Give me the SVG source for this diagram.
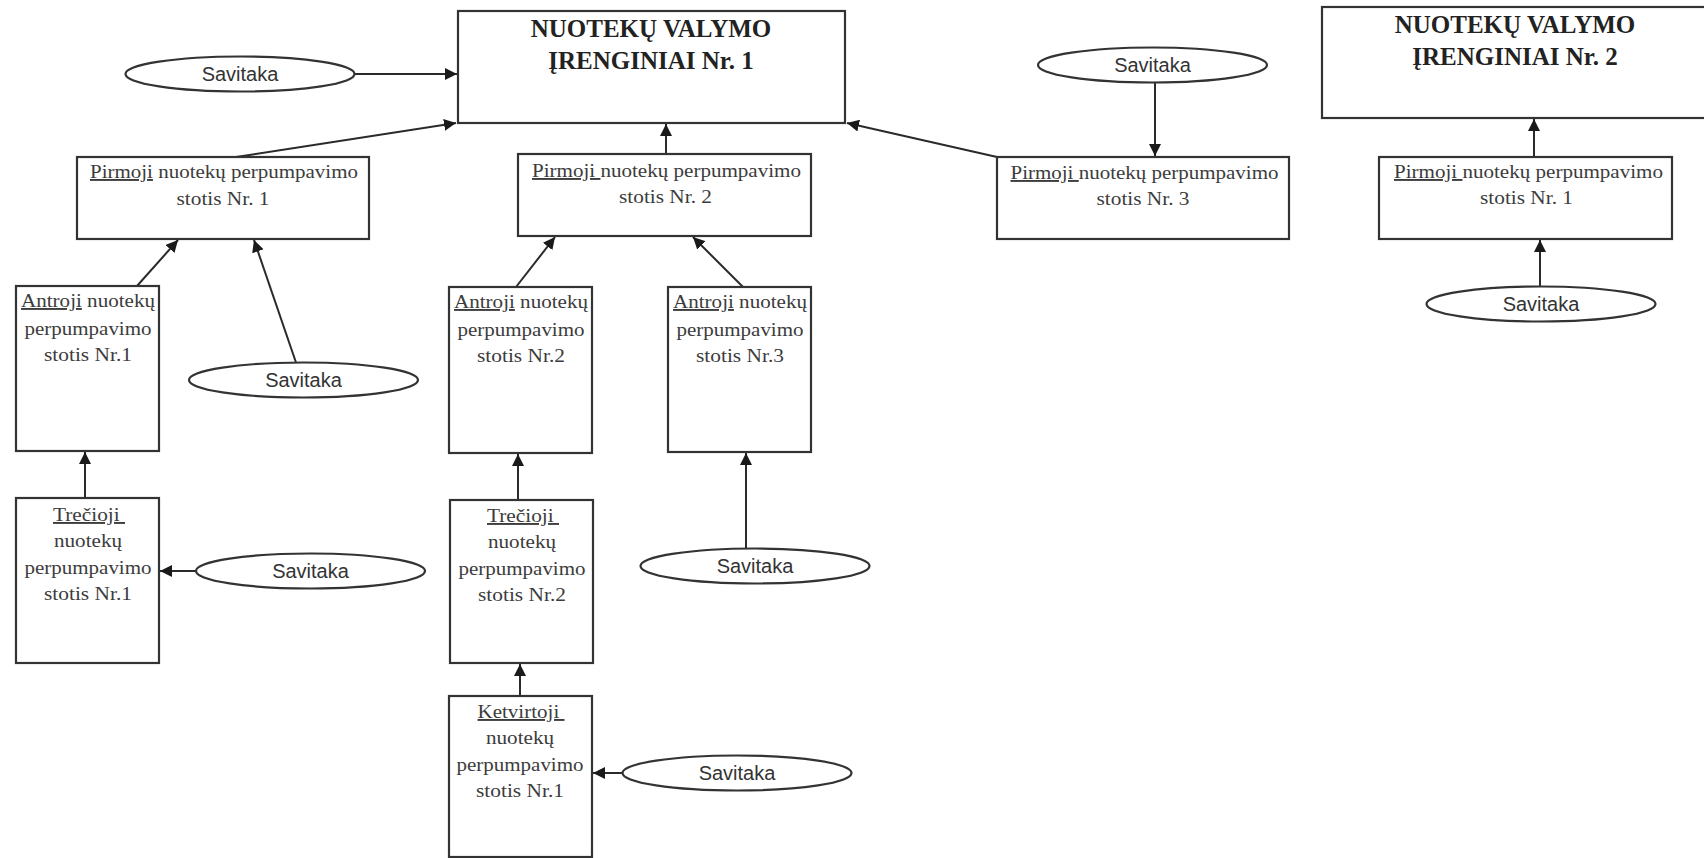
<svg xmlns="http://www.w3.org/2000/svg" width="1704" height="858" viewBox="0 0 1704 858">
<style>
.box{fill:#fff;stroke:#333;stroke-width:2.2}
.ell{fill:#fff;stroke:#333;stroke-width:2.2}
.lbl{font-family:"Liberation Serif","Times New Roman",serif;font-size:19px;fill:#3c3c3c;text-anchor:middle}
.ttl{font-family:"Liberation Serif","Times New Roman",serif;font-size:25px;font-weight:bold;fill:#222;text-anchor:middle}
.sav{font-family:"Liberation Sans",Arial,sans-serif;font-size:20px;fill:#333;text-anchor:middle}
.u{text-decoration:underline}
.con{stroke:#2a2a2a;stroke-width:2;fill:none;marker-end:url(#ah)}
</style>
<defs>
<marker id="ah" markerUnits="userSpaceOnUse" markerWidth="14" markerHeight="12" refX="12" refY="6" orient="auto">
<path d="M0,0 L12,6 L0,12 Z" fill="#1a1a1a"/>
</marker>
</defs>
<rect width="1704" height="858" fill="#fff"/>

<g id="connectors">
<line class="con" x1="354" y1="74" x2="457" y2="74"/>
<line class="con" x1="236" y1="157" x2="456" y2="123"/>
<line class="con" x1="666" y1="154" x2="666" y2="124"/>
<line class="con" x1="997" y1="157" x2="847" y2="123"/>
<line class="con" x1="1155" y1="82.5" x2="1155" y2="156"/>
<line class="con" x1="1534" y1="157" x2="1534" y2="119"/>
<line class="con" x1="1540" y1="286.5" x2="1540" y2="240"/>
<line class="con" x1="137" y1="286" x2="178" y2="240"/>
<line class="con" x1="296" y1="362.5" x2="254" y2="240"/>
<line class="con" x1="516" y1="287" x2="555" y2="237"/>
<line class="con" x1="743" y1="287" x2="693" y2="237"/>
<line class="con" x1="85" y1="498" x2="85" y2="452"/>
<line class="con" x1="196" y1="571" x2="160" y2="571"/>
<line class="con" x1="518" y1="500" x2="518" y2="454"/>
<line class="con" x1="746" y1="548.5" x2="746" y2="453"/>
<line class="con" x1="520" y1="696" x2="520" y2="664"/>
<line class="con" x1="622.5" y1="773" x2="593" y2="773"/>
</g>

<g id="main1">
<rect class="box" x="458" y="11" width="387" height="112"/>
<text class="ttl" x="651" y="37">NUOTEKŲ VALYMO</text>
<text class="ttl" x="651" y="68.5">ĮRENGINIAI Nr. 1</text>
</g>
<g id="main2">
<rect class="box" x="1322" y="7" width="400" height="111"/>
<text class="ttl" x="1515" y="33">NUOTEKŲ VALYMO</text>
<text class="ttl" x="1515" y="65">ĮRENGINIAI Nr. 2</text>
</g>

<g id="p1">
<rect class="box" x="77" y="157" width="292" height="82"/>
<text class="lbl" x="224" y="178" textLength="268" lengthAdjust="spacingAndGlyphs"><tspan class="u">Pirmoji</tspan> nuotekų perpumpavimo</text>
<text class="lbl" x="223" y="205" textLength="93" lengthAdjust="spacingAndGlyphs">stotis Nr. 1</text>
</g>
<g id="p2">
<rect class="box" x="518" y="154" width="293" height="82"/>
<text class="lbl" x="666.5" y="177" textLength="269" lengthAdjust="spacingAndGlyphs"><tspan class="u">Pirmoji </tspan>nuotekų perpumpavimo</text>
<text class="lbl" x="665.5" y="203" textLength="93" lengthAdjust="spacingAndGlyphs">stotis Nr. 2</text>
</g>
<g id="p3">
<rect class="box" x="997" y="157" width="292" height="82"/>
<text class="lbl" x="1144.5" y="179" textLength="268" lengthAdjust="spacingAndGlyphs"><tspan class="u">Pirmoji </tspan>nuotekų perpumpavimo</text>
<text class="lbl" x="1143" y="205" textLength="93" lengthAdjust="spacingAndGlyphs">stotis Nr. 3</text>
</g>
<g id="p1b">
<rect class="box" x="1379" y="157" width="293" height="82"/>
<text class="lbl" x="1528.5" y="178" textLength="269" lengthAdjust="spacingAndGlyphs"><tspan class="u">Pirmoji </tspan>nuotekų perpumpavimo</text>
<text class="lbl" x="1526.5" y="204" textLength="93" lengthAdjust="spacingAndGlyphs">stotis Nr. 1</text>
</g>

<g id="a1">
<rect class="box" x="16" y="286" width="143" height="165"/>
<text class="lbl" x="88" y="307" textLength="134" lengthAdjust="spacingAndGlyphs"><tspan class="u">Antroji</tspan> nuotekų</text>
<text class="lbl" x="88" y="335" textLength="127" lengthAdjust="spacingAndGlyphs">perpumpavimo</text>
<text class="lbl" x="88" y="361" textLength="88" lengthAdjust="spacingAndGlyphs">stotis Nr.1</text>
</g>
<g id="a2">
<rect class="box" x="449" y="287" width="143" height="166"/>
<text class="lbl" x="521" y="308" textLength="134" lengthAdjust="spacingAndGlyphs"><tspan class="u">Antroji</tspan> nuotekų</text>
<text class="lbl" x="521" y="336" textLength="127" lengthAdjust="spacingAndGlyphs">perpumpavimo</text>
<text class="lbl" x="521" y="362" textLength="88" lengthAdjust="spacingAndGlyphs">stotis Nr.2</text>
</g>
<g id="a3">
<rect class="box" x="668" y="287" width="143" height="165"/>
<text class="lbl" x="740" y="308" textLength="134" lengthAdjust="spacingAndGlyphs"><tspan class="u">Antroji</tspan> nuotekų</text>
<text class="lbl" x="740" y="336" textLength="127" lengthAdjust="spacingAndGlyphs">perpumpavimo</text>
<text class="lbl" x="740" y="362" textLength="88" lengthAdjust="spacingAndGlyphs">stotis Nr.3</text>
</g>

<g id="t1">
<rect class="box" x="16" y="498" width="143" height="165"/>
<text class="lbl" x="89" y="521" textLength="72" lengthAdjust="spacingAndGlyphs"><tspan class="u">Trečioji&#160;</tspan></text>
<text class="lbl" x="88" y="547" textLength="68" lengthAdjust="spacingAndGlyphs">nuotekų</text>
<text class="lbl" x="88" y="574" textLength="127" lengthAdjust="spacingAndGlyphs">perpumpavimo</text>
<text class="lbl" x="88" y="600" textLength="88" lengthAdjust="spacingAndGlyphs">stotis Nr.1</text>
</g>
<g id="t2">
<rect class="box" x="450" y="500" width="143" height="163"/>
<text class="lbl" x="523" y="522" textLength="72" lengthAdjust="spacingAndGlyphs"><tspan class="u">Trečioji&#160;</tspan></text>
<text class="lbl" x="522" y="548" textLength="68" lengthAdjust="spacingAndGlyphs">nuotekų</text>
<text class="lbl" x="522" y="575" textLength="127" lengthAdjust="spacingAndGlyphs">perpumpavimo</text>
<text class="lbl" x="522" y="601" textLength="88" lengthAdjust="spacingAndGlyphs">stotis Nr.2</text>
</g>
<g id="k1">
<rect class="box" x="449" y="696" width="143" height="161"/>
<text class="lbl" x="521" y="718" textLength="87" lengthAdjust="spacingAndGlyphs"><tspan class="u">Ketvirtoji&#160;</tspan></text>
<text class="lbl" x="520" y="744" textLength="68" lengthAdjust="spacingAndGlyphs">nuotekų</text>
<text class="lbl" x="520" y="771" textLength="127" lengthAdjust="spacingAndGlyphs">perpumpavimo</text>
<text class="lbl" x="520" y="797" textLength="88" lengthAdjust="spacingAndGlyphs">stotis Nr.1</text>
</g>

<g id="s1"><ellipse class="ell" cx="240" cy="74" rx="114.5" ry="17.5"/><text class="sav" x="240" y="81">Savitaka</text></g>
<g id="s2"><ellipse class="ell" cx="1152.5" cy="65" rx="114.5" ry="17.5"/><text class="sav" x="1152.5" y="72">Savitaka</text></g>
<g id="s3"><ellipse class="ell" cx="1541" cy="304" rx="114.5" ry="17.5"/><text class="sav" x="1541" y="311">Savitaka</text></g>
<g id="s4"><ellipse class="ell" cx="303.5" cy="380" rx="114.5" ry="17.5"/><text class="sav" x="303.5" y="387">Savitaka</text></g>
<g id="s5"><ellipse class="ell" cx="310.5" cy="571" rx="114.5" ry="17.5"/><text class="sav" x="310.5" y="578">Savitaka</text></g>
<g id="s6"><ellipse class="ell" cx="755" cy="566" rx="114.5" ry="17.5"/><text class="sav" x="755" y="573">Savitaka</text></g>
<g id="s7"><ellipse class="ell" cx="737" cy="773" rx="114.5" ry="17.5"/><text class="sav" x="737" y="780">Savitaka</text></g>
</svg>
